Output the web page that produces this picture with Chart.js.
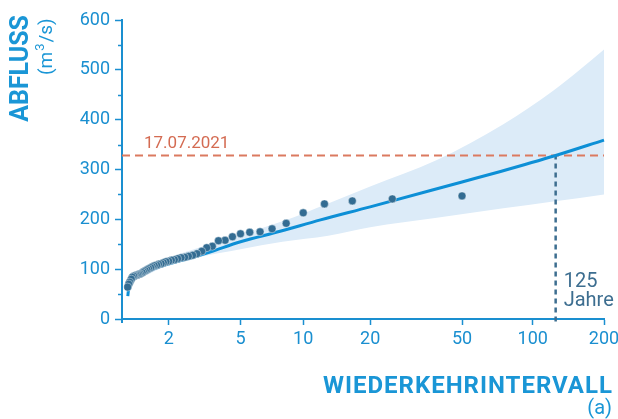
<!DOCTYPE html>
<html>
<head>
<meta charset="utf-8">
<script src="https://cdn.jsdelivr.net/npm/chart.js@4"></script>
<style>
  html, body { margin: 0; padding: 0; background: #fff; }
</style>
</head>
<body>
<canvas id="abfluss-chart" width="618" height="419"></canvas>
<script>
// Wiederkehrintervall (Jahre) and Abfluss (m3/s)
const xTickYears = [2, 5, 10, 20, 50, 100, 200];

// observed annual maxima, plotted at their return period
const obsT = [50, 25, 16.67, 12.5, 10, 8.33, 7.14, 6.25, 5.56, 5, 4.55, 4.17, 3.85, 3.57, 3.33, 3.13, 2.94, 2.78, 2.63, 2.5,
  2.38, 2.27, 2.17, 2.08, 2, 1.92, 1.85, 1.79, 1.72, 1.67, 1.61, 1.56, 1.52, 1.47, 1.43, 1.39, 1.35, 1.32, 1.28, 1.25,
  1.22, 1.19, 1.16, 1.14, 1.11, 1.09, 1.06, 1.04, 1.02];
const obsQ = [247, 241, 237, 231, 213, 192, 181, 175, 174, 171, 165, 158, 157, 146, 143, 136, 131, 128, 126, 124,
  123, 121, 119, 118, 116, 115, 113, 111, 110, 108, 107, 105, 103, 101, 99, 97, 95, 93, 91, 90,
  89, 88, 87, 86, 84, 80, 74, 70, 64];

// fitted distribution
const fitT = [1.02, 1.04, 1.08, 1.15, 1.27, 1.76, 2.8, 3.5, 5, 7.8, 12, 20, 50, 73, 125, 200];
const fitQ = [46, 64, 74, 82, 89, 105, 124, 135, 155, 176, 199, 225, 275, 296, 328, 359];

// confidence band
const bandT = [1.02, 1.1, 1.3, 2, 3, 5, 8, 13, 20, 39, 75, 122, 158, 200];
const bandUpper = [48, 82, 93, 122, 143, 169, 196, 232, 266, 319, 391, 458, 500, 541];
const bandLower = [46, 75, 84, 109, 124, 140, 155, 167, 184, 203, 222, 236, 243, 250];

// Hochwasser 17.07.2021
const eventLabel = '17.07.2021';
const eventQ = 328;
const eventT = 125;

const xMin = 0.91, xMax = 200;

// x axis is log(T + 1)
function pt(t, q) { return { x: t + 1, y: q }; }
function series(ts, qs) { return ts.map(function (t, i) { return pt(t, qs[i]); }); }

const BLUE = '#1a8fd0';
const FONT = 'Roboto, "Noto Sans", sans-serif';

const labelPlugin = {
  id: 'labels',
  afterDraw: function (chart) {
    const ctx = chart.ctx;
    const xs = chart.scales.x, ys = chart.scales.y;
    const left = chart.chartArea.left, bottom = chart.chartArea.bottom;
    ctx.save();

    // minor ticks on the y axis
    ctx.strokeStyle = BLUE;
    ctx.lineWidth = 1.5;
    for (let v = 50; v < 600; v += 100) {
      const y = Math.round(ys.getPixelForValue(v)) + 0.5;
      ctx.beginPath(); ctx.moveTo(left - 4, y); ctx.lineTo(left, y); ctx.stroke();
    }
    ctx.lineWidth = 2;
    ctx.beginPath(); ctx.moveTo(left, bottom); ctx.lineTo(left, bottom + 4); ctx.stroke();

    // y title
    ctx.fillStyle = '#1a96d6';
    ctx.save();
    ctx.translate(28, 15);
    ctx.rotate(-Math.PI / 2);
    ctx.textAlign = 'right';
    ctx.textBaseline = 'alphabetic';
    ctx.font = 'bold 25px ' + FONT;
    ctx.fillText('ABFLUSS', 0, 0);
    ctx.restore();

    // (m3/s) with a raised 3
    ctx.save();
    ctx.translate(52, 75);
    ctx.rotate(-Math.PI / 2);
    ctx.textAlign = 'left';
    ctx.font = '19px ' + FONT;
    let px = 0;
    ctx.fillText('(m', px, 0);
    px += ctx.measureText('(m').width + 1;
    ctx.font = '13px ' + FONT;
    ctx.fillText('3', px, -8);
    px += ctx.measureText('3').width + 1;
    ctx.font = '19px ' + FONT;
    ctx.fillText('/s)', px, 0);
    ctx.restore();

    // x title
    ctx.font = 'bold 24px ' + FONT;
    const title = 'WIEDERKEHRINTERVALL';
    const w = ctx.measureText(title).width;
    ctx.letterSpacing = ((289 - w) / (title.length - 1)).toFixed(2) + 'px';
    ctx.textAlign = 'left';
    ctx.fillText(title, 323, 393);
    ctx.letterSpacing = '0px';
    ctx.textAlign = 'right';
    ctx.font = '20px ' + FONT;
    ctx.fillText('(a)', 612, 414);

    // event label
    ctx.fillStyle = '#d46b52';
    ctx.textAlign = 'left';
    ctx.font = '17px ' + FONT;
    ctx.fillText(eventLabel, left + 22, ys.getPixelForValue(eventQ) - 8);

    // return period label
    ctx.fillStyle = '#3d6e90';
    ctx.font = '20px ' + FONT;
    const ex = xs.getPixelForValue(eventT + 1) + 8;
    ctx.fillText(String(eventT), ex, 287);
    ctx.fillText('Jahre', ex, 306);

    ctx.restore();
  }
};

new Chart(document.getElementById('abfluss-chart'), {
  type: 'line',
  data: {
    datasets: [
      {
        data: series(bandT, bandUpper),
        borderWidth: 0, pointRadius: 0,
        backgroundColor: '#dcebf8',
        fill: '+1',
        cubicInterpolationMode: 'monotone',
        order: 6
      },
      {
        data: series(bandT, bandLower),
        borderWidth: 0, pointRadius: 0,
        fill: false,
        cubicInterpolationMode: 'monotone',
        order: 5
      },
      {
        data: [pt(xMin, eventQ), pt(xMax, eventQ)],
        borderColor: '#db7a60', borderWidth: 2, borderDash: [8, 5],
        pointRadius: 0, fill: false,
        order: 4
      },
      {
        data: [pt(eventT, -5), pt(eventT, eventQ)],
        borderColor: '#3d6e90', borderWidth: 2.5, borderDash: [5, 4],
        pointRadius: 0, fill: false,
        order: 3
      },
      {
        data: series(fitT, fitQ),
        borderColor: '#0d8fd6', borderWidth: 3,
        pointRadius: 0, fill: false,
        cubicInterpolationMode: 'monotone',
        order: 2
      },
      {
        data: series(obsT, obsQ),
        showLine: false,
        pointRadius: 4,
        pointBackgroundColor: '#336c92',
        pointBorderColor: 'rgba(255,255,255,0.7)',
        pointBorderWidth: 0.6,
        order: 1
      }
    ]
  },
  options: {
    responsive: false,
    animation: false,
    clip: false,
    layout: { padding: { left: 0, right: 14, top: 20, bottom: 0 } },
    plugins: { legend: { display: false }, tooltip: { enabled: false } },
    scales: {
      x: {
        type: 'logarithmic',
        min: xMin + 1,
        max: xMax + 1,
        afterBuildTicks: function (scale) {
          scale.ticks = xTickYears.map(function (t) { return { value: t + 1 }; });
        },
        afterFit: function (scale) {
          scale.height = 100;
          scale.paddingLeft = 0;
          scale.paddingRight = 0;
        },
        ticks: {
          autoSkip: false,
          maxRotation: 0,
          color: BLUE,
          font: { family: FONT, size: 18 },
          padding: 4,
          callback: function (v) { return String(Math.round(v - 1)); }
        },
        grid: { drawOnChartArea: false, tickLength: 6, tickColor: BLUE, tickWidth: 1.5 },
        border: { color: BLUE, width: 2 }
      },
      y: {
        min: 0,
        max: 600,
        afterBuildTicks: function (scale) {
          const t = [];
          for (let v = 0; v <= 600; v += 100) t.push({ value: v });
          scale.ticks = t;
        },
        afterFit: function (scale) { scale.width = 122; },
        ticks: {
          autoSkip: false,
          color: BLUE,
          font: { family: FONT, size: 18 },
          padding: 5
        },
        grid: { drawOnChartArea: false, tickLength: 7, tickColor: BLUE, tickWidth: 1.5 },
        border: { color: BLUE, width: 2 }
      }
    }
  },
  plugins: [labelPlugin]
});
</script>
</body>
</html>
